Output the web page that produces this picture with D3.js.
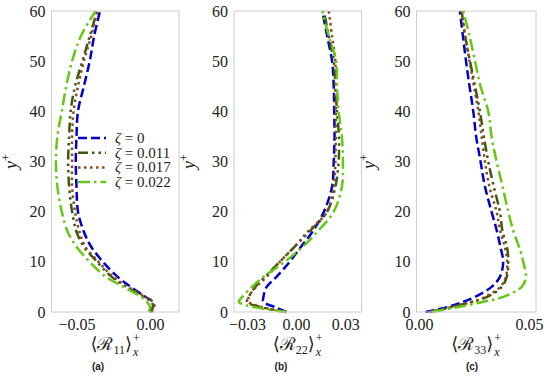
<!DOCTYPE html>
<html>
<head>
<meta charset="utf-8">
<script src="https://cdn.jsdelivr.net/npm/d3@7"></script>
<style>
  body { margin: 0; background: #fff; }
  svg { font-family: "Liberation Serif", "DejaVu Serif", serif; }
</style>
</head>
<body>
<div id="chart"></div>
<script>
// y+ levels where the profiles are read
var yPlus = [0, 1, 2, 3, 5, 7, 10, 13, 16, 20, 25, 30, 35, 40, 45, 50, 55, 60];

// legend labels
var zetaLabels = ["0", "0.011", "0.017", "0.022"];

// panel (a) <R11>x+
var r11_z0    = [0.000, 0.002, 0.002, -0.003, -0.013, -0.022, -0.032, -0.040, -0.045, -0.049, -0.050, -0.0505, -0.050, -0.049, -0.045, -0.041, -0.038, -0.034];
var r11_z011  = [0.000, 0.002, 0.001, -0.004, -0.016, -0.026, -0.036, -0.045, -0.050, -0.053, -0.055, -0.0557, -0.055, -0.054, -0.051, -0.046, -0.041, -0.036];
var r11_z017  = [0.001, 0.003, 0.002, -0.003, -0.015, -0.025, -0.035, -0.044, -0.048, -0.051, -0.053, -0.053, -0.053, -0.052, -0.049, -0.045, -0.040, -0.036];
var r11_z022  = [-0.001, 0.000, -0.002, -0.006, -0.018, -0.030, -0.041, -0.050, -0.056, -0.060, -0.063, -0.064, -0.063, -0.060, -0.057, -0.053, -0.047, -0.037];

// panel (b) <R22>x+
var r22_z0    = [-0.006, -0.013, -0.020, -0.020, -0.018, -0.012, -0.004, 0.003, 0.010, 0.017, 0.022, 0.023, 0.0235, 0.0233, 0.023, 0.022, 0.019, 0.016];
var r22_z011  = [-0.006, -0.022, -0.030, -0.029, -0.025, -0.019, -0.010, -0.001, 0.008, 0.019, 0.024, 0.026, 0.0262, 0.025, 0.024, 0.023, 0.020, 0.017];
var r22_z017  = [-0.006, -0.021, -0.029, -0.029, -0.0245, -0.018, -0.010, -0.001, 0.007, 0.019, 0.023, 0.024, 0.0243, 0.0243, 0.024, 0.024, 0.022, 0.020];
var r22_z022  = [-0.006, -0.026, -0.035, -0.033, -0.027, -0.020, -0.007, 0.004, 0.013, 0.023, 0.028, 0.0286, 0.028, 0.026, 0.025, 0.0245, 0.020, 0.016];

// panel (c) <R33>x+
var r33_z0    = [0.003, 0.013, 0.020, 0.0255, 0.033, 0.0368, 0.0383, 0.037, 0.0355, 0.033, 0.030, 0.028, 0.026, 0.0247, 0.023, 0.0214, 0.020, 0.0186];
var r33_z011  = [0.005, 0.015, 0.024, 0.031, 0.0376, 0.0399, 0.0406, 0.040, 0.038, 0.0368, 0.034, 0.0315, 0.0295, 0.0277, 0.0255, 0.0232, 0.021, 0.0194];
var r33_z017  = [0.005, 0.015, 0.024, 0.030, 0.037, 0.0395, 0.0401, 0.039, 0.037, 0.0353, 0.032, 0.030, 0.0285, 0.027, 0.025, 0.023, 0.021, 0.0194];
var r33_z022  = [0.006, 0.018, 0.029, 0.0383, 0.0467, 0.0486, 0.0474, 0.0455, 0.043, 0.0406, 0.038, 0.0353, 0.033, 0.0315, 0.028, 0.0255, 0.023, 0.0202];

// x ticks and limits per panel
var ticksA = [-0.05, 0.00], limA = [-0.067, 0.0197];
var ticksB = [-0.03, 0.00, 0.03], limB = [-0.038, 0.040];
var ticksC = [0.00, 0.05], limC = [-0.0011, 0.0532];
var yTicks = [0, 10, 20, 30, 40, 50, 60];

var colors = ["#0000cd", "#3b5a0e", "#8b4a1c", "#66c814"];
var dashes = ["9,4", "10,4,2.5,4,2.5,4", "2.5,3.5", "12,4,2.5,4"];

var panels = [
  {left: 51.5, right: 179, ticks: ticksA, lim: limA, series: [r11_z0, r11_z011, r11_z017, r11_z022], sub: "11", tag: "(a)", ylabX: 17, tagX: 98},
  {left: 234, right: 361.5, ticks: ticksB, lim: limB, series: [r22_z0, r22_z011, r22_z017, r22_z022], sub: "22", tag: "(b)", ylabX: 195, tagX: 281},
  {left: 416.5, right: 536, ticks: ticksC, lim: limC, series: [r33_z0, r33_z011, r33_z017, r33_z022], sub: "33", tag: "(c)", ylabX: 375, tagX: 472}
];

var plotTop = 11, plotBottom = 312;
var serif = "'Liberation Serif', 'DejaVu Serif', serif";

var svg = d3.select("#chart").append("svg")
  .attr("width", 550)
  .attr("height", 386);

var y = d3.scaleLinear().domain([0, 60]).range([plotBottom, plotTop]);

var fmt = d3.format(".2f");

panels.forEach(function(p) {
  var x = d3.scaleLinear().domain(p.lim).range([p.left, p.right]);

  var g = svg.append("g");

  // series lines
  p.series.forEach(function(vals, i) {
    var pts = vals.map((v, k) => [v, yPlus[k]]);
    g.append("path")
      .datum(pts)
      .attr("fill", "none")
      .attr("stroke", colors[i])
      .attr("stroke-width", 2.5)
      .attr("stroke-dasharray", dashes[i])
      .attr("d", d3.line()
        .x(d => x(d[0]))
        .y(d => y(d[1]))
        .curve(d3.curveCatmullRom));
  });

  // frame
  g.append("rect")
    .attr("x", p.left)
    .attr("y", plotTop)
    .attr("width", p.right - p.left)
    .attr("height", plotBottom - plotTop)
    .attr("fill", "none")
    .attr("stroke", "#cccccc")
    .attr("stroke-width", 1);

  // y axis, no tick marks
  var yAx = g.append("g")
    .attr("transform", `translate(${p.left},0)`)
    .call(d3.axisLeft(y).tickValues(yTicks).tickSize(0).tickPadding(6))
    .attr("font-family", serif)
    .attr("font-size", 16);
  yAx.select(".domain").remove();
  yAx.selectAll("text").attr("fill", "#222");

  // x axis
  var xAx = g.append("g")
    .attr("transform", `translate(0,${plotBottom})`)
    .call(d3.axisBottom(x).tickValues(p.ticks).tickSize(0).tickPadding(7)
      .tickFormat(d => fmt(d).replace("-", "\u2212")))
    .attr("font-family", serif)
    .attr("font-size", 16);
  xAx.select(".domain").remove();
  xAx.selectAll("text").attr("fill", "#222");

  // y label
  var yl = g.append("text")
    .attr("transform", `translate(${p.ylabX},${(plotTop + plotBottom) / 2}) rotate(-90)`)
    .attr("text-anchor", "middle")
    .attr("font-family", serif)
    .attr("font-size", 18)
    .attr("fill", "#222");
  yl.append("tspan").style("font-style", "italic").text("y");
  yl.append("tspan").attr("dy", -7).attr("font-size", 12).text("+");

  // x label: <R_ii>_x^+
  var xl = g.append("g").attr("font-family", serif).attr("fill", "#222");
  var main = xl.append("text")
    .attr("x", 0).attr("y", 0)
    .attr("font-size", 18);
  main.append("tspan").text("\u27e8");
  main.append("tspan").attr("font-family", "'DejaVu Serif', serif").text("\u211b");
  main.append("tspan").attr("dy", 4).attr("font-size", 12).text(p.sub);
  main.append("tspan").attr("dy", -4).text("\u27e9");
  var w = main.node().getComputedTextLength();
  xl.append("text")
    .attr("x", w + 1).attr("y", 6)
    .attr("font-size", 12).style("font-style", "italic")
    .text("x");
  xl.append("text")
    .attr("x", w + 1).attr("y", -8)
    .attr("font-size", 12)
    .text("+");
  var cx = (p.left + p.right) / 2;
  xl.attr("transform", `translate(${cx - (w + 8) / 2},350)`);

  // sub-caption
  g.append("text")
    .attr("x", p.tagX)
    .attr("y", 370)
    .attr("text-anchor", "middle")
    .attr("font-family", "'Liberation Sans', Arial, sans-serif")
    .attr("font-size", 10)
    .attr("font-weight", "bold")
    .attr("fill", "#222")
    .text(p.tag);
});

// legend in panel (a)
var legend = svg.append("g").attr("font-family", serif);
zetaLabels.forEach(function(lab, i) {
  var ly = 138 + i * 14.7;
  legend.append("line")
    .attr("x1", 78).attr("x2", 106)
    .attr("y1", ly).attr("y2", ly)
    .attr("stroke", colors[i])
    .attr("stroke-width", 2.5)
    .attr("stroke-dasharray", dashes[i]);
  var t = legend.append("text")
    .attr("x", 115).attr("y", ly + 5)
    .attr("font-size", 15)
    .attr("fill", "#222");
  t.append("tspan").style("font-style", "italic").text("\u03b6");
  t.append("tspan").text(" = " + lab);
});
</script>
</body>
</html>
